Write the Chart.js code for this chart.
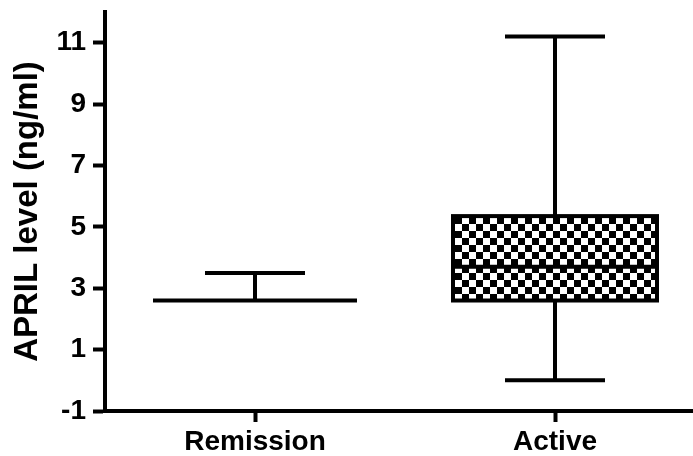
<!DOCTYPE html>
<html>
<head>
<meta charset="utf-8">
<script src="https://cdn.jsdelivr.net/npm/chart.js@4/dist/chart.umd.min.js"></script>
<style>
  html, body { margin: 0; padding: 0; background: #fff; }
  #wrap { width: 693px; height: 456px; }
</style>
</head>
<body>
<div id="wrap"><canvas id="april"></canvas></div>
<script>

// data
var groups = ['Remission', 'Active'];
var groupPos = [1, 2];
var mins = [2.6, 0];
var q1s = [2.6, 2.6];
var medians = [2.6, 3.7];
var q3s = [2.6, 5.35];
var maxs = [3.5, 11.2];
var yTicks = [-1, 1, 3, 5, 7, 9, 11];

function checkerPattern() {
  var c = document.createElement('canvas');
  c.width = 14;
  c.height = 14;
  var g = c.getContext('2d');
  g.fillStyle = '#fff';
  g.fillRect(0, 0, 14, 14);
  g.fillStyle = '#000';
  g.fillRect(0, 0, 7, 7);
  g.fillRect(7, 7, 7, 7);
  return g.createPattern(c, 'repeat');
}

// whiskers, caps, medians and box outlines
var whiskerPlugin = {
  id: 'whiskers',
  afterDatasetsDraw: function(chart) {
    var ctx = chart.ctx;
    var xs = chart.scales.x;
    var ys = chart.scales.y;
    ctx.save();
    ctx.strokeStyle = '#000';
    ctx.lineWidth = 4;
    ctx.lineCap = 'butt';
    for (var i = 0; i < groups.length; i++) {
      var cx = xs.getPixelForValue(groupPos[i]);
      var half = 102, cap = 50;
      var yMin = ys.getPixelForValue(mins[i]);
      var yMax = ys.getPixelForValue(maxs[i]);
      var yQ1 = ys.getPixelForValue(q1s[i]);
      var yQ3 = ys.getPixelForValue(q3s[i]);
      var yMed = ys.getPixelForValue(medians[i]);
      ctx.beginPath();
      if (yMax < yQ3) { ctx.moveTo(cx, yMax); ctx.lineTo(cx, yQ3); }
      if (yMin > yQ1) { ctx.moveTo(cx, yMin); ctx.lineTo(cx, yQ1); }
      if (maxs[i] > q3s[i]) { ctx.moveTo(cx - cap, yMax); ctx.lineTo(cx + cap, yMax); }
      if (mins[i] < q1s[i]) { ctx.moveTo(cx - cap, yMin); ctx.lineTo(cx + cap, yMin); }
      ctx.moveTo(cx - half, yMed);
      ctx.lineTo(cx + half, yMed);
      ctx.stroke();
      if (q3s[i] > q1s[i]) {
        ctx.strokeRect(cx - half, yQ3, half * 2, yQ1 - yQ3);
      }
    }
    ctx.restore();
  }
};

var boxData = groups.map(function(g, i) {
  return { x: groupPos[i], y: [q1s[i], q3s[i]] };
});

var ctx = document.getElementById('april').getContext('2d');
new Chart(ctx, {
  type: 'bar',
  data: {
    datasets: [{
      label: 'APRIL',
      data: boxData,
      backgroundColor: checkerPattern(),
      borderWidth: 0,
      barThickness: 204
    }]
  },
  options: {
    responsive: true,
    maintainAspectRatio: false,
    animation: false,
    layout: { padding: { top: 12, right: 0, left: 0, bottom: 0 } },
    plugins: {
      legend: { display: false },
      tooltip: { enabled: false }
    },
    scales: {
      x: {
        type: 'linear',
        offset: false,
        min: 0.5,
        max: 2.46,
        afterBuildTicks: function(scale) {
          scale.ticks = groupPos.map(function(v) { return { value: v }; });
        },
        afterFit: function(scale) {
          scale.height = 45;
          scale.paddingLeft = 0;
          scale.paddingRight = 0;
        },
        border: { display: true, color: '#000', width: 4 },
        grid: { offset: false, drawOnChartArea: false, tickLength: 11, tickWidth: 4, tickColor: '#000' },
        ticks: {
          color: '#000',
          padding: 3,
          maxRotation: 0,
          font: { family: 'Liberation Sans', weight: 'bold', size: 28 },
          callback: function(v) {
            var k = groupPos.indexOf(v);
            return k >= 0 ? groups[k] : '';
          }
        }
      },
      y: {
        min: -1,
        max: 12,
        afterBuildTicks: function(scale) {
          scale.ticks = yTicks.map(function(v) { return { value: v }; });
        },
        afterFit: function(scale) {
          scale.width = 105;
          scale.paddingTop = 0;
          scale.paddingBottom = 0;
        },
        border: { display: true, color: '#000', width: 4 },
        grid: { drawOnChartArea: false, tickLength: 12, tickWidth: 4, tickColor: '#000' },
        ticks: {
          color: '#000',
          padding: 7,
          font: { family: 'Liberation Sans', weight: 'bold', size: 28 }
        },
        title: {
          display: true,
          text: 'APRIL level (ng/ml)',
          color: '#000',
          padding: { top: 8, bottom: 0 },
          font: { family: 'Liberation Sans', weight: 'bold', size: 33 }
        }
      }
    }
  },
  plugins: [whiskerPlugin]
});
</script>
</body>
</html>
